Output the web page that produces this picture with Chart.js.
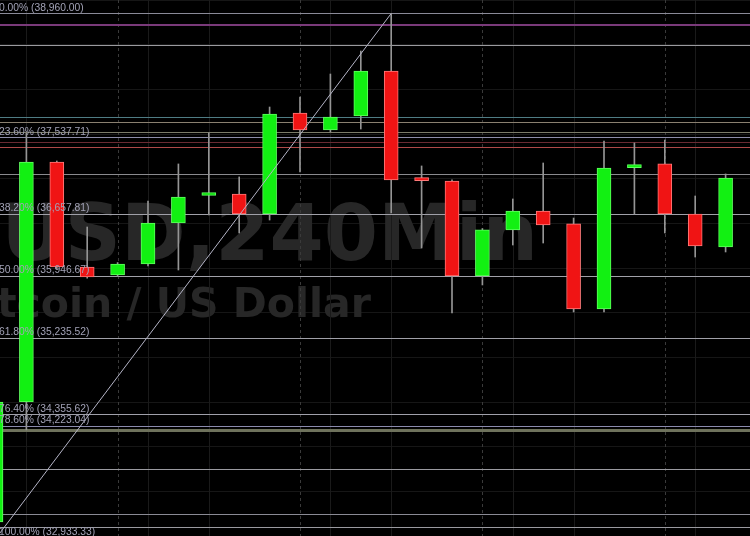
<!DOCTYPE html>
<html>
<head>
<meta charset="utf-8">
<script src="https://cdn.jsdelivr.net/npm/chart.js@4.4.0/dist/chart.umd.min.js"></script>
<style>
html,body{margin:0;padding:0;background:#000;overflow:hidden}
canvas{display:block}
</style>
</head>
<body>
<canvas id="c" width="750" height="536"></canvas>
<script>
// ---- data (BTCUSD, 240 min candles) ----
const candleIndex = [0,1,2,3,4,5,6,7,8,9,10,11,12,13,14,15,16,17,18,19,20,21,22,23,24];
const opens  = [33120,34498,37254,36049,35957,36083,36554,36870,36887,36657,37817,37622,37783,38300,37060,37036,35946,36474,36692,36543,35566,37190,37232,36657,36278];
const highs  = [34520,37588,37266,36508,36100,36807,37232,37588,37083,37886,38001,38265,38529,38960,37209,37050,36490,36830,37243,36611,37496,37473,37507,36864,37117];
const lows   = [32933.33,34177,36030,35920,35940,36060,36014,36646,36439,36588,37140,37600,37633,36669,36267,35520,35842,36301,36324,35532,35532,36657,36439,36163,36221];
const closes = [34498,37254,36049,35934,36083,36554,36852,36885,36657,37806,37622,37771,38300,37048,37040,35946,36474,36692,36531,35566,37186,37205,36657,36290,37071];

// Fibonacci retracement levels
const fibPct   = ['0.00%','23.60%','38.20%','50.00%','61.80%','76.40%','78.60%','100.00%'];
const fibPrice = [38960.00,37537.71,36657.81,35946.67,35235.52,34355.62,34223.04,32933.33];
const fibColors = ['#8a8a98','#8c8ca8','#a0a0a8','#a0a0a8','#a0a0a8','#a0a0aa','#8a8aac','#a0a0a8'];

// other horizontal levels
const extraLevels = [38828,38598,37771,37714,37599,37484,37427,37117,34180,33729,33212,33062];
const extraColors = ['#7a3a7a','#9a9a9e','#4f7c84','#8a8070','#7b7b68','#6a2a32','#b04a4a','#8a8a8e','#6e725c','#9a9aa0','#8a8a94','#9a9aa0'];
const extraWidths = [2,1,1,1,1,1,1,1,3,1,1,1];

// swing line (low -> high)
const swingX = [0,13];
const swingY = [32933.33,38960.00];

// vertical grid positions (candle index)
const dayLines = [4,10,16,22];
const minorLines = [1,5,7,11,13,17,19,23];

const watermarkTitle = 'BTCUSD,240Min';
const watermarkSub = 'Bitcoin / US Dollar';

// ---- chart ----
const bodyData = candleIndex.map((x,i)=>({x:x, y:[opens[i], closes[i]]}));
const wickData = candleIndex.map((x,i)=>({x:x, y:[lows[i], highs[i]]}));
const up = candleIndex.map((x,i)=>closes[i] >= opens[i]);

function fmt(v){ return v.toLocaleString('en-US',{minimumFractionDigits:2, maximumFractionDigits:2}); }

const overlay = {
  id:'overlay',
  beforeDraw(chart){
    const c = chart.ctx;
    c.save(); c.fillStyle = '#000'; c.fillRect(0,0,chart.width,chart.height); c.restore();
  },
  beforeDatasetsDraw(chart){
    const c = chart.ctx, xs = chart.scales.x, ys = chart.scales.y, a = chart.chartArea;
    c.save();
    // watermark
    c.fillStyle = '#272727';
    c.textAlign = 'right';
    c.textBaseline = 'alphabetic';
    c.font = 'bold 78px "DejaVu Sans"';
    c.fillText(watermarkTitle, 538, 260);
    c.font = 'bold 41px "DejaVu Sans"';
    c.fillText(watermarkSub, 371, 317);
    // vertical grid
    c.lineWidth = 1;
    minorLines.forEach(v=>{
      const x = Math.round(xs.getPixelForValue(v)) + 0.5;
      c.strokeStyle = '#1a1a1a'; c.setLineDash([]);
      c.beginPath(); c.moveTo(x, a.top); c.lineTo(x, a.bottom); c.stroke();
    });
    dayLines.forEach(v=>{
      const x = Math.round(xs.getPixelForValue(v)) + 0.5;
      c.strokeStyle = '#3a3a3a'; c.setLineDash([3,3]);
      c.beginPath(); c.moveTo(x, a.top); c.lineTo(x, a.bottom); c.stroke();
    });
    c.setLineDash([]);
    // horizontal levels
    extraLevels.forEach((p,i)=>{
      const y = Math.round(ys.getPixelForValue(p)) + (extraWidths[i] % 2 ? 0.5 : 0);
      c.strokeStyle = extraColors[i]; c.lineWidth = extraWidths[i];
      c.beginPath(); c.moveTo(a.left, y); c.lineTo(a.right, y); c.stroke();
    });
    fibPrice.forEach((p,i)=>{
      const y = Math.round(ys.getPixelForValue(p)) + 0.5;
      c.strokeStyle = fibColors[i]; c.lineWidth = 1;
      c.beginPath(); c.moveTo(a.left, y); c.lineTo(a.right, y); c.stroke();
    });
    c.restore();
  },
  afterDatasetsDraw(chart){
    const c = chart.ctx, xs = chart.scales.x, ys = chart.scales.y;
    c.save();
    c.font = '10.3px "Liberation Sans", Arial, sans-serif';
    c.fillStyle = '#a2a2b6';
    c.textAlign = 'left';
    c.textBaseline = 'bottom';
    const x0 = xs.getPixelForValue(swingX[0]) + 3;
    fibPrice.forEach((p,i)=>{
      const y = ys.getPixelForValue(p);
      c.fillText(fibPct[i] + ' (' + fmt(p) + ')', x0, y - 0.5);
    });
    c.restore();
  }
};

new Chart(document.getElementById('c').getContext('2d'), {
  type:'bar',
  data:{
    datasets:[
      {type:'line', data: swingX.map((x,i)=>({x:x, y:swingY[i]})), borderColor:'#b4b4c6', borderWidth:1, pointRadius:0, order:0},
      {label:'body', data: bodyData,
       backgroundColor: up.map(u=>u ? '#12f012' : '#f01414'),
       borderColor: up.map(u=>u ? '#60ff60' : '#ff7a7a'),
       borderWidth:1, borderSkipped:false, barThickness:14, minBarLength:3, grouped:false, order:1},
      {label:'wick', data: wickData, backgroundColor:'#959595', borderWidth:0, barThickness:1, grouped:false, order:2}
    ]
  },
  options:{
    responsive:false, animation:false, events:[],
    layout:{padding:0},
    plugins:{legend:{display:false}, tooltip:{enabled:false}},
    scales:{
      x:{type:'linear', min:0.1316, max:24.8026, offset:false, display:false, grid:{offset:false}},
      y:{type:'linear', min:32959, max:39115, beginAtZero:false, display:true,
         ticks:{display:false, stepSize:500}, border:{display:false},
         grid:{color:'#161616', drawTicks:false, tickLength:0}}
    }
  },
  plugins:[overlay]
});
</script>
</body>
</html>
